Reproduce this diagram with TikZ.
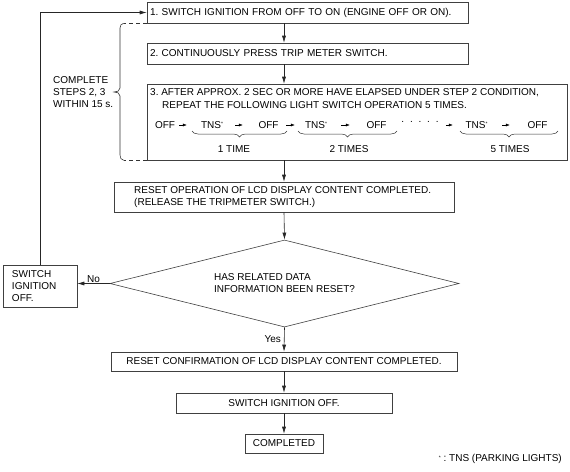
\documentclass[tikz,border=0pt]{standalone}
\usepackage{fontspec}
\setmainfont{Liberation Sans}
\usetikzlibrary{arrows.meta,shapes.geometric,decorations.pathreplacing}
\begin{document}
\frenchspacing
\begin{tikzpicture}[x=1pt,y=-1pt,
  every node/.style={font=\fontsize{10}{12}\selectfont, inner sep=0pt},
  box/.style={draw=black!75, line width=0.6pt, rectangle, inner sep=0pt},
  arr/.style={draw=black!85, line width=0.6pt, -{Latex[length=7pt,width=4pt]}},
  sarr/.style={draw=black, line width=0.5pt, -{Latex[length=4pt,width=3pt]}},
  brc/.style={draw=black!80, line width=0.5pt, decorate, decoration={brace,mirror,amplitude=6pt}},
  dsh/.style={draw=black!80, line width=0.6pt, dash pattern=on 4pt off 3pt}]
\useasboundingbox (0,0) rectangle (570,471);
\coordinate (cx) at (284,0);
% boxes
\node[box, minimum width=321pt, minimum height=21pt, text width=315pt, align=left] (b1) at (307.5,12.5) {1. SWITCH IGNITION FROM OFF TO ON (ENGINE OFF OR ON).};
\node[box, minimum width=321pt, minimum height=21pt, text width=315pt, align=left] (b2) at (307.5,53.5) {2. CONTINUOUSLY PRESS TRIP METER SWITCH.};
\node[box, minimum width=420pt, minimum height=76pt] (b3) at (357,122) {};
\node[anchor=west] (l1) at (150,93) {3. AFTER APPROX. 2 SEC OR MORE HAVE ELAPSED UNDER STEP 2 CONDITION,};
\node[anchor=west] (l2) at (162,105) {REPEAT THE FOLLOWING LIGHT SWITCH OPERATION 5 TIMES.};
% row
\newcommand{\tns}{TNS\raisebox{2.5pt}{\fontsize{5}{5}\selectfont *}}
\node (o1) at (165,125) {OFF};
\node (t1) at (212,125) {\tns};
\node (o2) at (268.5,125) {OFF};
\node (t2) at (316,125) {\tns};
\node (o3) at (376.5,125) {OFF};
\node (dots) at (420,121.5) {.\hspace{5.8pt}.\hspace{5.8pt}.\hspace{5.8pt}.\hspace{5.8pt}.};
\node (t3) at (476.5,125) {\tns};
\node (o4) at (537.5,125) {OFF};
\draw[sarr, shorten <=4pt, shorten >=14pt] (o1.east) -- (t1.west);
\draw[sarr, shorten <=12pt, shorten >=15.5pt] (t1.east) -- (o2.west);
\draw[sarr, shorten <=7.5pt, shorten >=10pt] (o2.east) -- (t2.west);
\draw[sarr, shorten <=14pt, shorten >=16.5pt] (t2.east) -- (o3.west);
\draw[sarr, shorten <=7pt, shorten >=12.5pt] (dots.east |- t3.west) -- (t3.west);
\draw[sarr, shorten <=14.5pt, shorten >=17.5pt] (t3.east) -- (o4.west);
\draw[brc] (192,131) -- (287,131);
\draw[brc] (298,131) -- (397,131);
\draw[brc] (460,131) -- (558,131);
\node (n1) at (234,149) {1 TIME};
\node (n2) at (349,149) {2 TIMES};
\node (n5) at (510,149) {5 TIMES};
% bracket
\node[anchor=west, align=left] (cmp) at (53,92) {COMPLETE\\STEPS 2, 3\\WITHIN 15 s.};
\draw[dsh] (b1.south west) -- ++(-23,0) coordinate (bt);
\draw[dsh] (b3.south west) -- ++(-23,0) coordinate (bb);
\draw[draw=black!80, line width=0.6pt] (bt) to[out=180,in=90] (120,28) -- (120,88) .. controls (120,91) and (117,92) .. (114,92) .. controls (117,92) and (120,93) .. (120,96) -- (120,155) to[out=-90,in=180] (bb);
% lower part
\node[box, minimum width=340pt, minimum height=30pt] (b4) at (284,197) {};
\node[anchor=west, align=left] (b4t) at (134,197) {RESET OPERATION OF LCD DISPLAY CONTENT COMPLETED.\\(RELEASE THE TRIPMETER SWITCH.)};
\node[draw=black!75, line width=0.6pt, diamond, aspect=4, minimum width=349pt, minimum height=87pt, inner sep=0pt, align=left] (dia) at (284.5,283.5) {HAS RELATED DATA\\INFORMATION BEEN RESET?};
\node[box, minimum width=74pt, minimum height=42pt, text width=56pt, align=left] (sw) at (40,286) {SWITCH\\IGNITION\\OFF.};
\node[box, minimum width=346pt, minimum height=19pt] (b5) at (284,361.5) {RESET CONFIRMATION OF LCD DISPLAY CONTENT COMPLETED.};
\node[box, minimum width=216pt, minimum height=20pt] (b6) at (284,403) {SWITCH IGNITION OFF.};
\node[box, minimum width=78pt, minimum height=19pt] (b7) at (284,443.5) {COMPLETED};
\node[anchor=east] (fn) at (562,459) {\raisebox{2.5pt}{\fontsize{5}{5}\selectfont *} : TNS (PARKING LIGHTS)};
% connectors
\draw[arr] (b1.south -| cx) -- (b2.north -| cx);
\draw[arr] (b2.south -| cx) -- (b3.north -| cx);
\draw[arr] (b3.south -| cx) -- (b4.north -| cx);
\draw[arr] (b4.south) -- (dia.north);
\draw[arr] (dia.south) -- node[left, xshift=-3pt] (yes) {Yes} (b5.north);
\draw[arr] (b5.south) -- (b6.north);
\draw[arr] (b6.south) -- (b7.north);
\draw[arr] (dia.west) -- node[above, yshift=1pt] (no) {No} (sw.east |- dia.west);
\draw[arr] (sw.north) -- (sw.north |- b1.west) -- (b1.west);
\end{tikzpicture}
\end{document}
